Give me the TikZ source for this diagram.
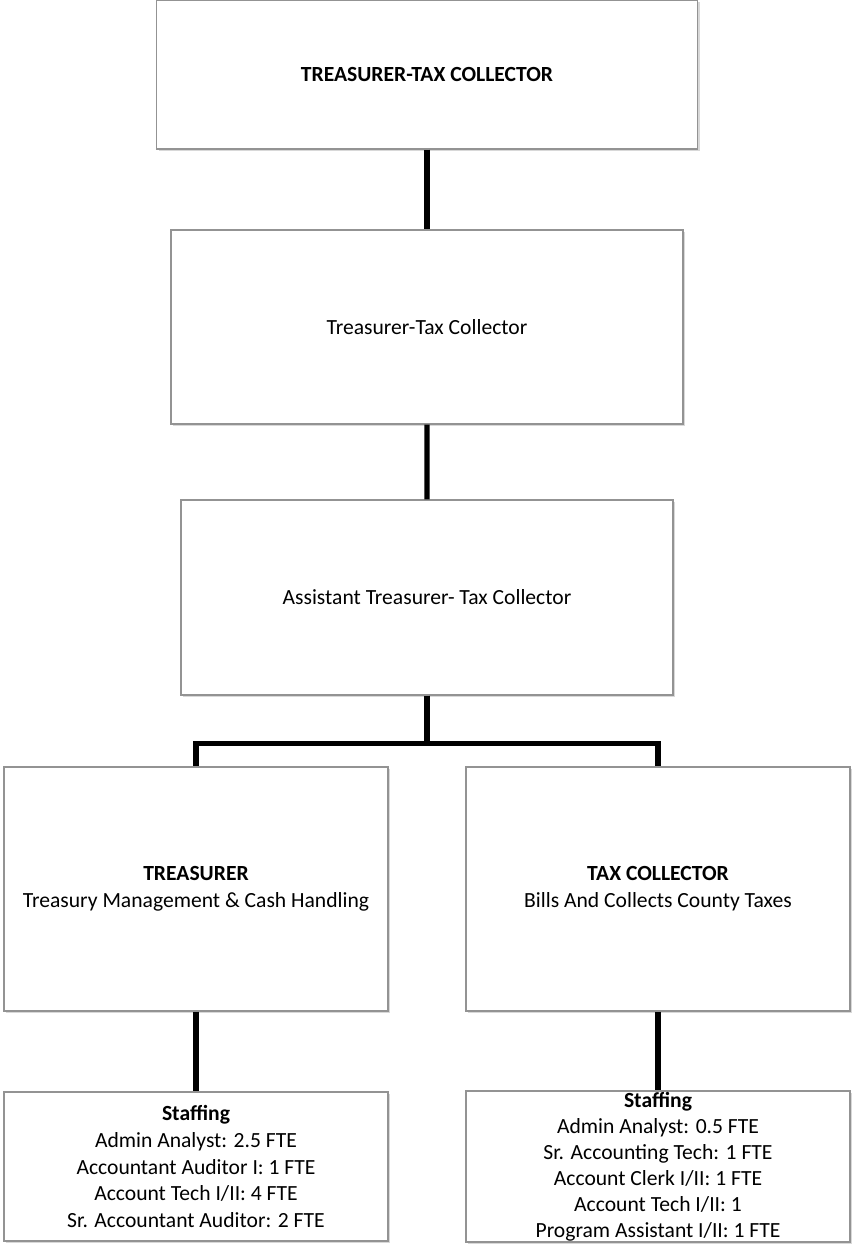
\documentclass[tikz,border=0pt]{standalone}
\usepackage{fontspec}
\setmainfont{Carlito}
\usetikzlibrary{trees,shadows}

\begin{document}
\begin{tikzpicture}[level distance=126.25pt,
  level 2/.style={level distance=135.25pt},
  level 3/.style={level distance=145.75pt, sibling distance=231pt,
    edge from parent fork down},
  level 4/.style={level distance=138.75pt},
  edge from parent/.style={draw, line width=2.6pt},
  every node/.style = {shape=rectangle, draw=gray!85, line width=0.7pt,
    fill=white, align=center, inner sep=1pt,
    font=\fontsize{10.8}{13.4}\selectfont,
    drop shadow={shadow xshift=1.2pt, shadow yshift=-1.2pt, fill=black!30}}]
  \path[use as bounding box] (-213.5pt,37.25pt) rectangle (213pt,-585.75pt);
  \node (ttc) [minimum width=270.5pt, minimum height=74.5pt] {\textbf{TREASURER-TAX COLLECTOR}}
    child { node (ttcoff) [minimum width=256pt, minimum height=97pt] {Treasurer-Tax Collector}
      child { node (asst) [minimum width=246pt, minimum height=97.5pt] {Assistant Treasurer- Tax Collector}
        child { node (treas) [minimum width=192pt, minimum height=122pt]
            {\textbf{TREASURER}\\Treasury Management \& Cash Handling}
          child { node (treasstaff) [minimum width=192pt, minimum height=74.5pt]
              {\textbf{Staffing}\\Admin Analyst: 2.5 FTE\\Accountant Auditor I: 1 FTE\\Account Tech I/II: 4 FTE\\Sr. Accountant Auditor: 2 FTE} }
        }
        child { node (taxcol) [minimum width=192pt, minimum height=122pt]
            {\textbf{TAX COLLECTOR}\\Bills And Collects County Taxes}
          child { node (taxstaff) [minimum width=192pt, minimum height=75.5pt, inner sep=0pt,
              font=\fontsize{10.8}{13}\selectfont]
              {\textbf{Staffing}\\Admin Analyst: 0.5 FTE\\Sr. Accounting Tech: 1 FTE\\Account Clerk I/II: 1 FTE\\Account Tech I/II: 1\\Program Assistant I/II: 1 FTE} }
        }
      }
    };
\end{tikzpicture}
\end{document}
